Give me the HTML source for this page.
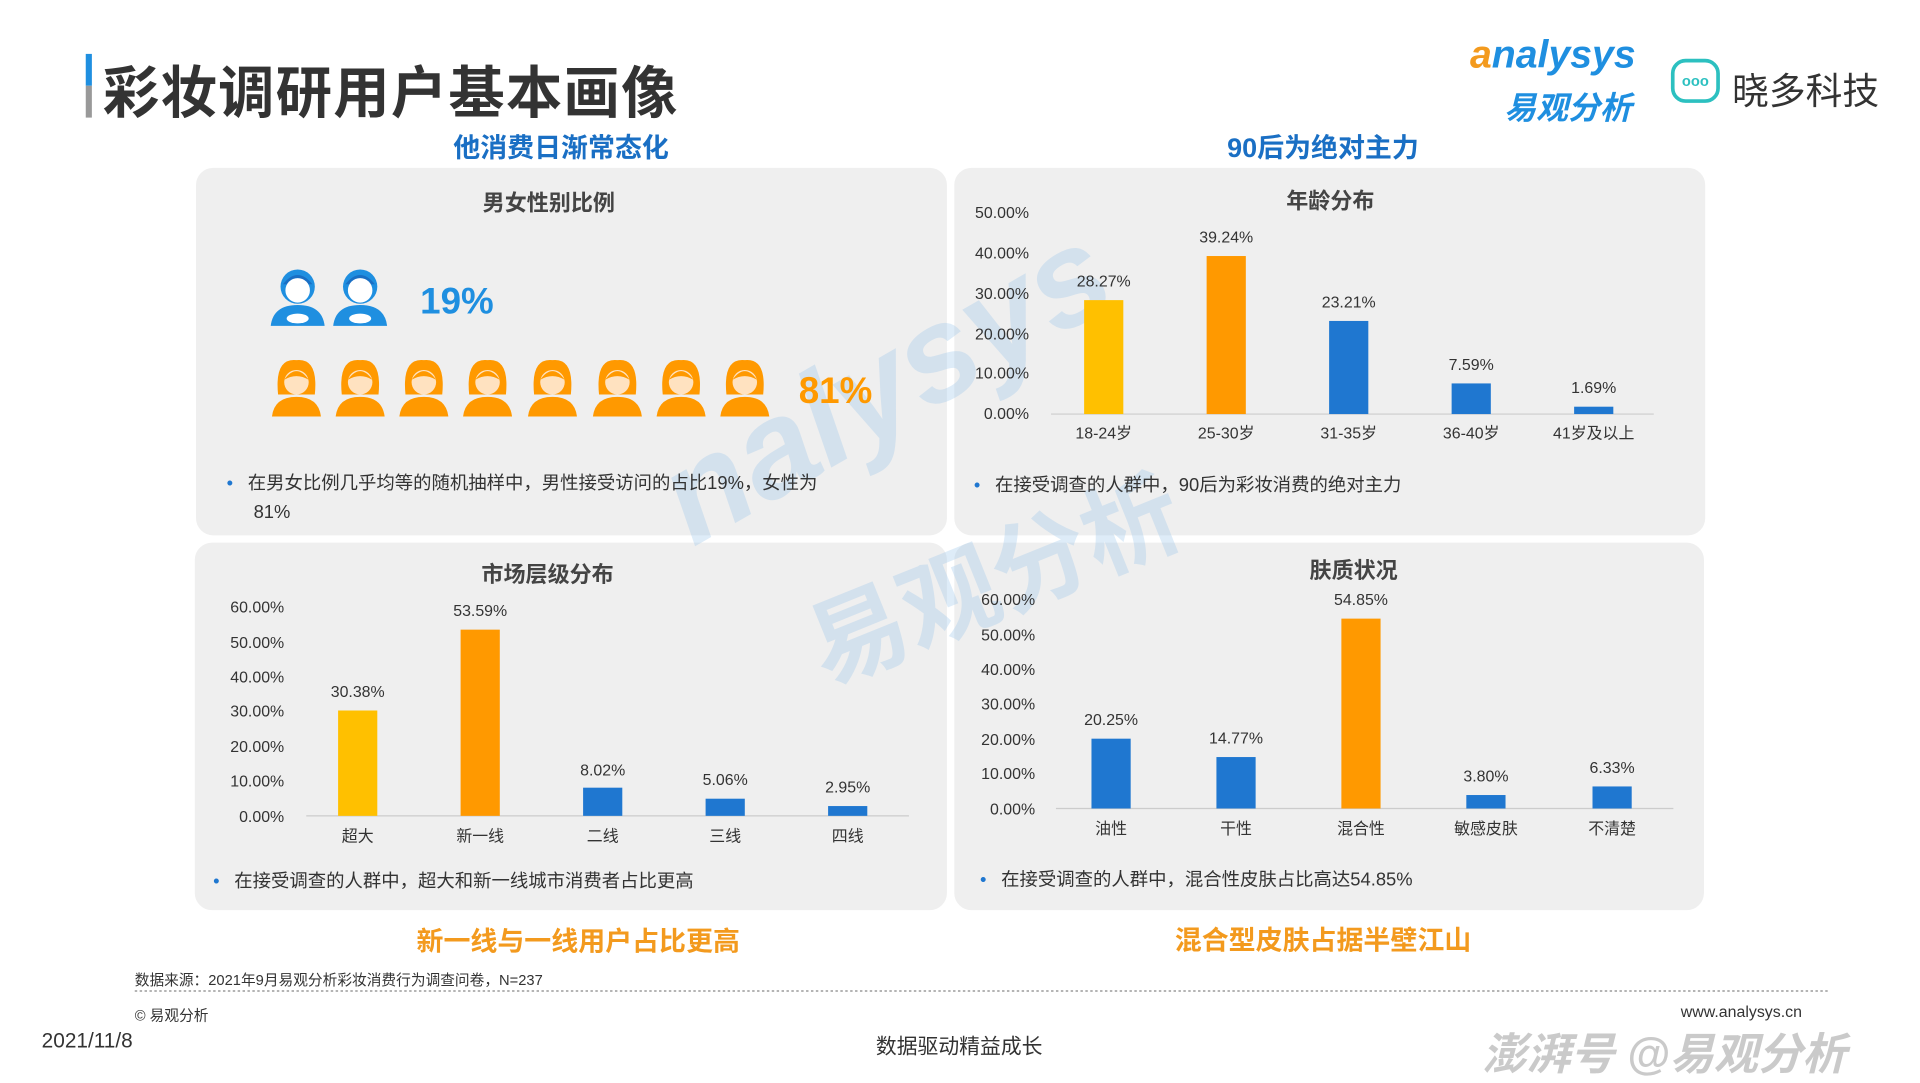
<!DOCTYPE html>
<html><head><meta charset="utf-8"><style>
html,body{margin:0;padding:0;width:1920px;height:1080px;overflow:hidden;background:#fff}
#w{position:absolute;left:0;top:0;width:1568px;height:882px;transform:scale(1.2250);transform-origin:0 0;font-family:"Liberation Sans","Noto Sans CJK SC",sans-serif;color:#333}
.a{position:absolute;white-space:nowrap}
.p{position:absolute;background:#efefef;border-radius:14px}
.st{font-weight:bold;font-size:22px;transform:translateX(-50%)}
.ct{font-weight:bold;font-size:18px;color:#444;transform:translateX(-50%)}
.bl{font-size:15px;color:#333}
.dot{color:#1f77d0;margin-right:12px}
</style></head><body><div id="w">
<div class="a" style="left:70px;top:44px;width:5px;height:26px;background:#1f8fe0"></div>
<div class="a" style="left:70px;top:70px;width:5px;height:26px;background:#999"></div>
<div class="a" style="left:84px;top:40px;font-size:46px;font-weight:bold;color:#333;letter-spacing:1px">彩妆调研用户基本画像</div>
<div class="a" style="left:1200px;top:26px;font-size:32px;font-style:italic;color:#f39a1e;font-weight:bold">a<span style="color:#1f8fe0">nalysys</span></div>
<div class="a" style="left:1228px;top:68px;font-size:26px;font-weight:bold;color:#1f8fe0;font-style:italic">易观分析</div>
<div class="a" style="left:1364px;top:48px;width:40px;height:36px;border:3px solid #2cc0c0;border-radius:12px;box-sizing:border-box;font-size:12px;color:#2cc0c0;text-align:center;line-height:30px;font-weight:bold">ooo</div>
<div class="a" style="left:1414px;top:50px;font-size:30px;color:#333">晓多科技</div>

<div class="a st" style="left:458px;top:103px;color:#1a6fc4">他消费日渐常态化</div>
<div class="a st" style="left:1080px;top:103px;color:#1a6fc4">90后为绝对主力</div>
<div class="a st" style="left:472px;top:751px;color:#f39a1e">新一线与一线用户占比更高</div>
<div class="a st" style="left:1080px;top:750px;color:#f39a1e">混合型皮肤占据半壁江山</div>

<div class="p" style="left:160px;top:137px;width:613px;height:300px"></div>
<div class="p" style="left:779px;top:137px;width:613px;height:300px"></div>
<div class="p" style="left:159px;top:443px;width:614px;height:300px"></div>
<div class="p" style="left:779px;top:443px;width:612px;height:300px"></div>

<div class="a" style="left:520px;top:250px;font-size:110px;font-style:italic;font-weight:bold;color:rgba(160,200,235,0.35);transform:rotate(-30deg)">nalysys</div>
<div class="a" style="left:650px;top:410px;font-size:80px;font-weight:bold;color:rgba(160,200,235,0.35);transform:rotate(-22deg)">易观分析</div>

<div class="a ct" style="left:448px;top:152px">男女性别比例</div>
<div class="a ct" style="left:1086px;top:150px">年龄分布</div>
<div class="a ct" style="left:447px;top:455px">市场层级分布</div>
<div class="a ct" style="left:1105px;top:452px">肤质状况</div>

<svg class="a" style="left:0;top:0" width="1568" height="882">
<defs>
<g id="m"><circle cx="22" cy="17" r="14" fill="#1f8fe0"/><path d="M10 15 Q22 0 34 15 Z" fill="#1a6fc4"/><circle cx="22" cy="20" r="10" fill="#fff"/><path d="M0 49 Q2 32 22 32 Q42 32 44 49 Z" fill="#1f8fe0"/><ellipse cx="22" cy="43" rx="9" ry="4" fill="#fff"/></g>
<g id="f"><path d="M5 30 Q2 0 20 2 Q38 0 35 30 Z" fill="#ff9900"/><circle cx="20" cy="20" r="10" fill="#ffe2c0"/><path d="M10 18 Q20 4 30 18 Q20 12 10 18Z" fill="#ff9900"/><path d="M0 48 Q2 32 20 32 Q38 32 40 48 Z" fill="#ff9900"/></g>
</defs>
<use href="#m" x="221" y="217"/><use href="#m" x="272" y="217"/>
<use href="#f" x="222" y="292"/><use href="#f" x="274" y="292"/><use href="#f" x="326" y="292"/><use href="#f" x="378" y="292"/><use href="#f" x="431" y="292"/><use href="#f" x="484" y="292"/><use href="#f" x="536" y="292"/><use href="#f" x="588" y="292"/>
<text x="343" y="256" font-size="30" font-weight="bold" fill="#1f8fe0">19%</text>
<text x="652" y="329" font-size="30" font-weight="bold" fill="#ff9900">81%</text>

<g font-size="13" fill="#333" font-family="Liberation Sans,Noto Sans CJK SC,sans-serif">
<g text-anchor="end"><text x="840" y="178">50.00%</text><text x="840" y="211">40.00%</text><text x="840" y="244">30.00%</text><text x="840" y="277">20.00%</text><text x="840" y="309">10.00%</text><text x="840" y="342">0.00%</text></g>
<line x1="858" y1="338" x2="1350" y2="338" stroke="#ccc"/>
<rect x="885" y="245" width="32" height="93" fill="#ffc000"/>
<rect x="985" y="209" width="32" height="129" fill="#ff9900"/>
<rect x="1085" y="262" width="32" height="76" fill="#1f77d0"/>
<rect x="1185" y="313" width="32" height="25" fill="#1f77d0"/>
<rect x="1285" y="332" width="32" height="6" fill="#1f77d0"/>
<g text-anchor="middle"><text x="901" y="234">28.27%</text><text x="1001" y="198">39.24%</text><text x="1101" y="251">23.21%</text><text x="1201" y="302">7.59%</text><text x="1301" y="321">1.69%</text>
<text x="901" y="358">18-24岁</text><text x="1001" y="358">25-30岁</text><text x="1101" y="358">31-35岁</text><text x="1201" y="358">36-40岁</text><text x="1301" y="358">41岁及以上</text></g>
<g text-anchor="end"><text x="232" y="500">60.00%</text><text x="232" y="529">50.00%</text><text x="232" y="557">40.00%</text><text x="232" y="585">30.00%</text><text x="232" y="614">20.00%</text><text x="232" y="642">10.00%</text><text x="232" y="671">0.00%</text></g>
<line x1="250" y1="666" x2="742" y2="666" stroke="#ccc"/>
<rect x="276" y="580" width="32" height="86" fill="#ffc000"/>
<rect x="376" y="514" width="32" height="152" fill="#ff9900"/>
<rect x="476" y="643" width="32" height="23" fill="#1f77d0"/>
<rect x="576" y="652" width="32" height="14" fill="#1f77d0"/>
<rect x="676" y="658" width="32" height="8" fill="#1f77d0"/>
<g text-anchor="middle"><text x="292" y="569">30.38%</text><text x="392" y="503">53.59%</text><text x="492" y="633">8.02%</text><text x="592" y="641">5.06%</text><text x="692" y="647">2.95%</text>
<text x="292" y="687">超大</text><text x="392" y="687">新一线</text><text x="492" y="687">二线</text><text x="592" y="687">三线</text><text x="692" y="687">四线</text></g>
<g text-anchor="end"><text x="845" y="494">60.00%</text><text x="845" y="523">50.00%</text><text x="845" y="551">40.00%</text><text x="845" y="579">30.00%</text><text x="845" y="608">20.00%</text><text x="845" y="636">10.00%</text><text x="845" y="665">0.00%</text></g>
<line x1="862" y1="660" x2="1366" y2="660" stroke="#ccc"/>
<rect x="891" y="603" width="32" height="57" fill="#1f77d0"/>
<rect x="993" y="618" width="32" height="42" fill="#1f77d0"/>
<rect x="1095" y="505" width="32" height="155" fill="#ff9900"/>
<rect x="1197" y="649" width="32" height="11" fill="#1f77d0"/>
<rect x="1300" y="642" width="32" height="18" fill="#1f77d0"/>
<g text-anchor="middle"><text x="907" y="592">20.25%</text><text x="1009" y="607">14.77%</text><text x="1111" y="494">54.85%</text><text x="1213" y="638">3.80%</text><text x="1316" y="631">6.33%</text>
<text x="907" y="681">油性</text><text x="1009" y="681">干性</text><text x="1111" y="681">混合性</text><text x="1213" y="681">敏感皮肤</text><text x="1316" y="681">不清楚</text></g>
</g>
<line x1="110" y1="809" x2="1492" y2="809" stroke="#888" stroke-dasharray="2,2"/>
</svg>

<div class="a bl" style="left:185px;top:383px;line-height:24px"><span class="dot">•</span>在男女比例几乎均等的随机抽样中，男性接受访问的占比19%，女性为<br><span style="margin-left:22px">81%</span></div>
<div class="a bl" style="left:795px;top:385px"><span class="dot">•</span>在接受调查的人群中，90后为彩妆消费的绝对主力</div>
<div class="a bl" style="left:174px;top:708px"><span class="dot">•</span>在接受调查的人群中，超大和新一线城市消费者占比更高</div>
<div class="a bl" style="left:800px;top:707px"><span class="dot">•</span>在接受调查的人群中，混合性皮肤占比高达54.85%</div>

<div class="a" style="left:110px;top:791px;font-size:12px;color:#333">数据来源：2021年9月易观分析彩妆消费行为调查问卷，N=237</div>
<div class="a" style="left:110px;top:820px;font-size:12px;color:#333">© 易观分析</div>
<div class="a" style="left:34px;top:840px;font-size:17px;color:#333">2021/11/8</div>
<div class="a" style="left:783px;top:840px;font-size:17px;color:#333;transform:translateX(-50%)">数据驱动精益成长</div>
<div class="a" style="left:1372px;top:818px;font-size:13px;color:#333">www.analysys.cn</div>
<div class="a" style="left:1210px;top:832px;font-size:36px;font-style:italic;font-weight:bold;color:rgba(180,180,180,0.7)">澎湃号 @易观分析</div>
</div></body></html>
